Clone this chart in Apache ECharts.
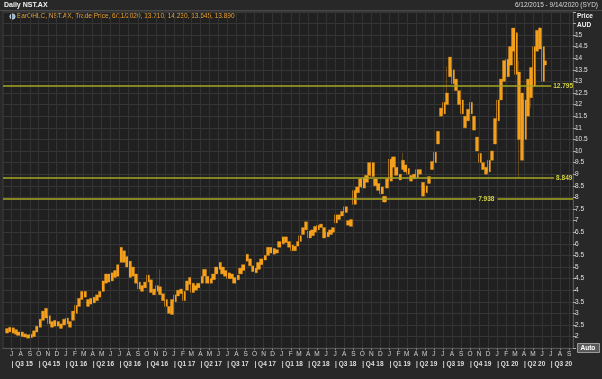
<!DOCTYPE html>
<html><head><meta charset="utf-8">
<script src="https://cdn.jsdelivr.net/npm/echarts@6/dist/echarts.min.js"></script>
<style>html,body{margin:0;padding:0;background:#282828;}#c{width:602px;height:379px;}</style>
</head><body><div id="c"></div>
<script>
// ---- data (~10-day ranges) ----
const dates = [
'2015-06-15','2015-06-25',
'2015-07-05','2015-07-15','2015-07-25','2015-08-05','2015-08-15','2015-08-25','2015-09-05','2015-09-15','2015-09-25',
'2015-10-05','2015-10-15','2015-10-25','2015-11-05','2015-11-15','2015-11-25','2015-12-05','2015-12-15','2015-12-25',
'2016-01-05','2016-01-15','2016-01-25','2016-02-05','2016-02-15','2016-02-25','2016-03-05','2016-03-15','2016-03-25',
'2016-04-05','2016-04-15','2016-04-25','2016-05-05','2016-05-15','2016-05-25','2016-06-05','2016-06-15','2016-06-25',
'2016-07-05','2016-07-15','2016-07-25','2016-08-05','2016-08-15','2016-08-25','2016-09-05','2016-09-15','2016-09-25',
'2016-10-05','2016-10-15','2016-10-25','2016-11-05','2016-11-15','2016-11-25','2016-12-05','2016-12-15','2016-12-25',
'2017-01-05','2017-01-15','2017-01-25','2017-02-05','2017-02-15','2017-02-25','2017-03-05','2017-03-15','2017-03-25',
'2017-04-05','2017-04-15','2017-04-25','2017-05-05','2017-05-15','2017-05-25','2017-06-05','2017-06-15','2017-06-25',
'2017-07-05','2017-07-15','2017-07-25','2017-08-05','2017-08-15','2017-08-25','2017-09-05','2017-09-15','2017-09-25',
'2017-10-05','2017-10-15','2017-10-25','2017-11-05','2017-11-15','2017-11-25','2017-12-05','2017-12-15','2017-12-25',
'2018-01-05','2018-01-15','2018-01-25','2018-02-05','2018-02-15','2018-02-25','2018-03-05','2018-03-15','2018-03-25',
'2018-04-05','2018-04-15','2018-04-25','2018-05-05','2018-05-15','2018-05-25','2018-06-05','2018-06-15','2018-06-25',
'2018-07-05','2018-07-15','2018-07-25','2018-08-05','2018-08-15','2018-08-25','2018-09-05','2018-09-15','2018-09-25',
'2018-10-05','2018-10-15','2018-10-25','2018-11-05','2018-11-15','2018-11-25','2018-12-05','2018-12-15','2018-12-25',
'2019-01-05','2019-01-15','2019-01-25','2019-02-05','2019-02-15','2019-02-25','2019-03-05','2019-03-15','2019-03-25',
'2019-04-05','2019-04-15','2019-04-25','2019-05-05','2019-05-15','2019-05-25','2019-06-05','2019-06-15','2019-06-25',
'2019-07-05','2019-07-15','2019-07-25','2019-08-05','2019-08-15','2019-08-25','2019-09-05','2019-09-15','2019-09-25',
'2019-10-05','2019-10-15','2019-10-25','2019-11-05','2019-11-15','2019-11-25','2019-12-05','2019-12-15','2019-12-25',
'2020-01-05','2020-01-15','2020-01-25','2020-02-05','2020-02-15','2020-02-25','2020-03-05','2020-03-15','2020-03-25',
'2020-04-05','2020-04-15','2020-04-25','2020-05-05','2020-05-15','2020-05-25','2020-06-05','2020-06-11'
];
// low / high of each period (typical trading range)
const lows = [
2.15,2.2,
2.15,2.1,2.05,2.0,1.98,1.93,1.95,2.0,2.2,
2.4,2.7,2.8,2.55,2.4,2.45,2.45,2.35,2.5,
2.55,2.4,2.7,3.0,3.3,3.6,3.7,3.3,3.4,
3.45,3.55,3.7,3.95,4.3,4.35,4.4,4.55,4.6,
5.2,5.2,5.0,4.55,4.6,4.3,4.05,3.95,4.1,
4.35,3.9,3.8,3.95,3.8,3.55,3.3,3.0,2.95,
3.5,3.75,3.85,3.55,4.0,4.25,3.9,4.0,4.1,
4.3,4.6,4.3,4.3,4.45,4.7,4.9,4.7,4.6,
4.5,4.5,4.3,4.45,4.7,4.85,5.25,5.05,4.8,
4.75,4.9,5.1,5.3,5.5,5.6,5.55,5.6,5.85,
6.0,6.05,5.85,5.7,5.7,5.9,6.1,6.4,6.6,
6.25,6.35,6.5,6.6,6.7,6.25,6.3,6.4,6.5,
6.9,7.05,7.2,7.35,6.8,6.75,7.7,8.2,8.45,
8.4,8.65,8.95,8.9,8.5,8.3,8.15,7.8,8.4,
8.7,9.3,8.95,8.75,9.2,9.1,9.0,8.7,8.8,
8.85,9.0,8.05,8.2,8.6,9.2,9.5,10.3,11.5,
11.6,12.0,13.2,12.9,12.6,12.0,11.6,11.0,11.3,
11.6,10.9,10.0,9.5,9.2,9.0,9.1,9.6,10.3,
11.3,12.2,13.0,13.2,13.7,14.3,13.3,10.5,9.6,
10.5,11.5,12.3,12.8,14.3,14.4,13.0,13.645
];
const highs = [
2.35,2.4,
2.38,2.3,2.2,2.2,2.12,2.08,2.1,2.25,2.45,
2.75,3.1,3.22,2.9,2.65,2.7,2.65,2.55,2.75,
2.8,2.65,3.1,3.35,3.65,3.95,3.95,3.6,3.65,
3.7,3.8,3.95,4.4,4.7,4.7,4.75,4.85,5.1,
5.85,5.7,5.45,5.25,5.0,4.7,4.35,4.2,4.35,
4.65,4.45,4.05,4.2,4.15,3.85,3.6,3.3,3.6,
3.8,4.0,4.05,3.95,4.4,4.55,4.3,4.2,4.3,
4.6,4.9,4.6,4.5,4.7,5.0,5.2,5.0,4.85,
4.75,4.7,4.55,4.65,4.95,5.1,5.55,5.35,5.05,
4.95,5.2,5.35,5.5,5.85,5.85,5.8,5.75,6.1,
6.3,6.3,6.1,5.95,5.9,6.1,6.35,6.7,6.95,
6.55,6.6,6.75,6.8,6.85,6.7,6.5,6.6,6.7,
7.25,7.25,7.4,7.6,7.0,7.05,8.3,8.45,8.8,
8.85,8.95,9.5,9.5,8.8,8.6,8.45,8.05,8.8,
9.65,9.75,9.3,9.0,9.6,9.4,9.25,8.95,9.0,
9.2,9.2,8.65,8.5,8.9,9.55,9.95,10.85,11.85,
12.1,12.5,14.05,13.5,13.1,12.6,12.2,11.5,11.8,
12.1,11.5,10.6,9.9,9.5,9.3,9.6,10.0,11.4,
12.2,13.1,13.9,13.95,14.5,15.3,15.1,13.4,12.5,
12.2,13.1,13.6,14.5,15.2,15.3,14.5,14.23
];
// single-day extremes that stick out of the typical range (drawn as wicks)
const spikeDates = ['2016-11-15','2018-12-15','2019-02-15','2019-07-15','2020-03-15','2020-04-25','2020-05-25'];
const spikeLows  = [3.8, 7.76, 9.2, 12.0, 8.85, 11.85, 14.4];
const spikeHighs = [4.9, 8.05, 9.92, 13.65, 13.9, 13.6, 15.35];
const lastOHLC = [13.710, 14.230, 13.645, 13.890]; // open, high, low, close of 6/11/2020
const levels = [12.795, 8.849, 7.938];
const monthLetters = ['J','F','M','A','M','J','J','A','S','O','N','D'];
const quarterNames = ['Q1','Q2','Q3','Q4'];
const yLabelMin = 2, yLabelMax = 15;

// ---- helpers ----
const ts = (y, m, d) => new Date(y, m, d).getTime();
const parseDay = (s) => { const p = s.split('-').map(Number); return ts(p[0], p[1] - 1, p[2]); };
const xMin = ts(2015, 5, 2);
const xMax = ts(2020, 8, 14);
const monthTicks = [], quarterTicks = [];
for (let y = 2015; y <= 2020; y++) {
  for (let m = 0; m < 12; m++) {
    const t = ts(y, m, 1);
    if (t < xMin || t > xMax) continue;
    monthTicks.push(t);
    if (m % 3 === 0) quarterTicks.push(t);
  }
}
const n = dates.length;
const candle = dates.map((d, i) => {
  const t = parseDay(d);
  if (i === n - 1) return [t, lastOHLC[0], lastOHLC[3], lastOHLC[2], lastOHLC[1]];
  const k = spikeDates.indexOf(d);
  const lo = k >= 0 ? Math.min(spikeLows[k], lows[i]) : lows[i];
  const hi = k >= 0 ? Math.max(spikeHighs[k], highs[i]) : highs[i];
  return [t, lows[i], highs[i], lo, hi];
});
const lastTs = parseDay(dates[n - 1]);
const lastD = new Date(lastTs);

const FONT = 'Liberation Sans';
const ORANGE = '#f5a01c';
const lvlColor = '#a6a622';
const lvlText = '#d4d440';
const lvlLabel = (txt) => ({ show: true, position: 'end', distance: 2, formatter: txt,
  color: lvlText, fontSize: 6.5, fontFamily: FONT, fontWeight: 'bold' });

const chart = echarts.init(document.getElementById('c'), null, { renderer: 'canvas' });
chart.setOption({
  animation: false,
  backgroundColor: '#282828',
  grid: { left: 3, right: 29, top: 11.8, height: 336.4, show: true,
          backgroundColor: '#202020', borderColor: '#3c3c3c', borderWidth: 1 },
  xAxis: [{
    type: 'value', min: xMin, max: xMax, position: 'bottom', scale: true,
    axisLine: { show: true, lineStyle: { color: '#555' } },
    axisTick: { show: true, customValues: monthTicks, length: 2, lineStyle: { color: '#888' } },
    axisLabel: { customValues: monthTicks, margin: 3, fontSize: 6.5, fontFamily: FONT, color: '#cfcfcf',
      formatter: (v) => monthLetters[new Date(v).getMonth()] },
    splitLine: { show: false }
  }, {
    type: 'value', min: xMin, max: xMax, position: 'bottom', offset: 9.5, scale: true,
    axisLine: { show: false }, axisTick: { show: false }, splitLine: { show: false },
    axisLabel: { customValues: quarterTicks, margin: 3, fontSize: 6.5, fontFamily: FONT, fontWeight: 'bold',
      color: '#dedede', align: 'left',
      formatter: (v) => { const d = new Date(v);
        return '| ' + quarterNames[Math.floor(d.getMonth() / 3)] + ' ' + String(d.getFullYear()).slice(2); } }
  }],
  yAxis: {
    type: 'value', position: 'right', min: 1.5, max: 16, interval: 0.5,
    axisLine: { show: true, lineStyle: { color: '#555' } },
    axisTick: { show: true, length: 3, lineStyle: { color: '#aaa' } },
    axisLabel: { margin: 2, fontSize: 6.5, fontFamily: FONT, color: '#e0e0e0',
      formatter: (v) => (v < yLabelMin || v > yLabelMax) ? '' : String(v) },
    splitLine: { show: true, lineStyle: { color: '#363636', width: 1 } }
  },
  series: [{
    // vertical month grid lines
    type: 'line', xAxisIndex: 0, data: [], z: 0, silent: true,
    markLine: { silent: true, symbol: ['none', 'none'], animation: false, label: { show: false },
      lineStyle: { color: '#333333', width: 1, type: 'solid' },
      data: monthTicks.map(t => ({ xAxis: t })) }
  }, {
    type: 'candlestick', xAxisIndex: 0, data: candle, barWidth: 3.8, z: 3,
    encode: { x: 0, y: [1, 2, 3, 4] },
    itemStyle: { color: ORANGE, color0: ORANGE, borderColor: ORANGE, borderColor0: ORANGE, borderWidth: 0.3 },
    markLine: {
      silent: true, symbol: ['none', 'none'], animation: false,
      lineStyle: { color: lvlColor, width: 1.5, type: 'solid' },
      data: [
        [{ coord: [xMin, levels[0]] }, { coord: [ts(2020, 6, 2), levels[0]], label: lvlLabel(String(levels[0])) }],
        [{ coord: [xMin, levels[1]] }, { coord: [ts(2020, 6, 12), levels[1]], label: lvlLabel(String(levels[1])) }],
        [{ coord: [xMin, levels[2]] }, { coord: [ts(2019, 9, 22), levels[2]], label: lvlLabel(String(levels[2])) }],
        [{ coord: [ts(2020, 0, 2), levels[2]] }, { coord: [xMax, levels[2]], label: { show: false } }],
        [{ coord: [lastTs, lastOHLC[3]], lineStyle: { opacity: 0 } },
         { coord: [xMax, lastOHLC[3]], lineStyle: { opacity: 0 },
           label: { show: true, position: 'end', distance: 1, formatter: lastOHLC[3].toFixed(3),
             backgroundColor: '#f6a01a', color: '#111', fontSize: 6.5, fontFamily: FONT, fontWeight: 'bold',
             padding: [1, 2, 1, 2] } }]
      ]
    }
  }],
  graphic: [
    { type: 'line', shape: { x1: 0, y1: 10.5, x2: 602, y2: 10.5 }, style: { stroke: '#4a4a4a', lineWidth: 1 } },
    { type: 'text', left: 4, top: 2, style: { text: 'Daily NST.AX', fill: '#f0f0f0', font: 'bold 7px "Liberation Sans"' } },
    { type: 'text', right: 4, top: 2, style: { text: '6/12/2015 - 9/14/2020 (SYD)', fill: '#d8d8d8', font: '6.5px "Liberation Sans"' } },
    { type: 'circle', shape: { cx: 12.5, cy: 16.5, r: 2.6 }, style: { fill: '#8fb4d8', stroke: '#e8e8e8', lineWidth: 0.8 } },
    { type: 'text', left: 17, top: 13, style: {
        text: 'BarOHLC, NST.AX, Trade Price, ' + (lastD.getMonth() + 1) + '/' + lastD.getDate() + '/' + lastD.getFullYear()
              + ', ' + lastOHLC.map(v => v.toFixed(3)).join(', '),
        fill: '#eda232', font: '6.5px "Liberation Sans"' } },
    { type: 'text', left: 577, top: 13, style: { text: 'Price', fill: '#f0f0f0', font: 'bold 6.5px "Liberation Sans"' } },
    { type: 'text', left: 577, top: 21.5, style: { text: 'AUD', fill: '#f0f0f0', font: 'bold 6.5px "Liberation Sans"' } },
    { type: 'rect', shape: { x: 577.5, y: 343.5, width: 22, height: 9 }, style: { fill: '#5a5a5a', stroke: '#9a9a9a', lineWidth: 1 } },
    { type: 'text', left: 580.5, top: 344.5, style: { text: 'Auto', fill: '#ffffff', font: 'bold 6.5px "Liberation Sans"' } }
  ]
});
</script></body></html>
